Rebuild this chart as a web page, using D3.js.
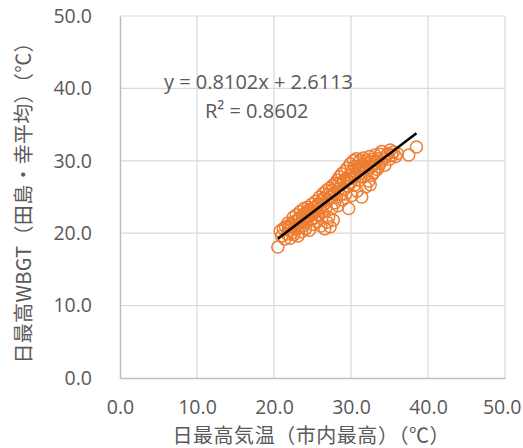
<!DOCTYPE html>
<html>
<head>
<meta charset="utf-8">
<script src="https://cdn.jsdelivr.net/npm/d3@7"></script>
<style>
  html, body { margin: 0; padding: 0; background: #fff; }
  svg text { font-family: "Noto Sans CJK JP", "Noto Sans", sans-serif; fill: #595959; }
</style>
</head>
<body>
<div id="chart"></div>
<script>
// 日最高気温（市内最高）
const tempMax = [
  20.5, 20.8, 21.0, 21.2, 21.4, 21.5, 21.7, 21.8, 22.0, 22.1, 22.3, 22.4, 22.5, 22.6, 22.7, 22.8, 22.9,
  23.0, 23.1, 23.2, 23.3, 23.4, 23.5, 23.6, 23.7, 23.8, 23.9, 24.0, 24.1, 24.2, 24.3, 24.4, 24.5, 24.6,
  24.7, 24.8, 24.9, 25.0, 25.1, 25.2, 25.3, 25.4, 25.5, 25.6, 25.7, 25.8, 25.9, 26.0, 26.1, 26.2, 26.3,
  26.4, 26.5, 26.6, 26.7, 26.8, 26.9, 27.0, 27.1, 27.2, 27.3, 27.4, 27.5, 27.6, 27.7, 27.8, 27.9, 28.0,
  28.1, 28.2, 28.3, 28.4, 28.5, 28.6, 28.7, 28.8, 28.9, 29.0, 29.1, 29.2, 29.3, 29.4, 29.5, 29.6, 29.7,
  29.8, 29.9, 30.0, 30.1, 30.2, 30.3, 30.4, 30.5, 30.6, 30.7, 30.8, 30.9, 31.0, 31.1, 31.2, 31.3, 31.4,
  31.5, 31.6, 31.7, 31.8, 31.9, 32.0, 32.1, 32.2, 32.3, 32.4, 32.5, 32.6, 32.7, 32.8, 32.9, 33.0, 33.1,
  33.2, 33.4, 33.5, 33.6, 33.8, 33.9, 34.0, 34.2, 34.4, 34.6, 34.8, 35.0, 35.1, 35.3, 35.5, 35.8, 36.0,
  37.5, 38.5,
  21.9, 22.2, 23.3, 23.9, 24.5, 25.2, 25.8, 26.4, 27.0, 27.6, 28.4, 29.1, 29.8, 30.5, 31.2, 32.0, 32.6
];
// 日最高WBGT（田島・幸平均）
const wbgtMax = [
  18.1, 20.3, 19.6, 20.6, 19.2, 20.9, 19.9, 21.4, 20.4, 19.3, 21.0, 20.1, 22.2, 19.8, 21.6, 20.6, 22.5,
  21.1, 19.6, 22.0, 20.8, 23.0, 21.5, 20.2, 22.4, 21.0, 23.4, 22.0, 20.6, 22.8, 21.6, 23.6, 22.3, 20.4,
  23.1, 21.9, 24.0, 22.6, 21.2, 23.5, 22.1, 24.4, 23.0, 21.6, 24.0, 22.5, 25.0, 23.6, 21.0, 24.5, 22.9,
  25.5, 24.0, 20.6, 23.4, 25.9, 21.5, 24.6, 22.2, 26.2, 20.9, 25.0, 23.4, 26.6, 21.8, 25.5, 24.2, 26.9,
  25.0, 27.3, 23.8, 26.1, 27.8, 25.3, 26.7, 28.2, 24.6, 27.2, 26.0, 28.6, 25.4, 27.6, 29.0, 26.5, 23.4,
  28.0, 29.6, 27.0, 25.2, 28.6, 30.0, 26.6, 29.2, 27.8, 30.3, 25.8, 28.8, 29.8, 27.3, 30.1, 28.3, 25.0,
  29.5, 30.4, 27.8, 29.0, 26.4, 30.0, 28.6, 29.6, 27.2, 30.6, 26.7, 29.1, 28.0, 30.2, 29.4, 28.4, 30.8,
  29.7, 28.8, 30.3, 29.2, 30.9, 29.8, 31.3, 30.2, 29.4, 30.7, 31.0, 30.2, 31.5, 30.8, 31.2, 30.6, 31.0,
  30.8, 31.9,
  20.8, 21.3, 21.9, 22.7, 23.2, 22.9, 23.9, 24.8, 25.3, 25.9, 26.8, 27.1, 27.5, 28.1, 28.9, 29.2, 29.9
];
const trendSlope = 0.8102;
const trendIntercept = 2.6113;
const rSquared = 0.8602;
const xTicks = [0, 10, 20, 30, 40, 50];
const yTicks = [0, 10, 20, 30, 40, 50];
const xTitle = '日最高気温（市内最高）（℃）';
const yTitle = '日最高WBGT（田島・幸平均）（℃）';

const W = 523, H = 448;
const plot = { left: 120, right: 505, top: 16, bottom: 378 };

const svg = d3.select('#chart').append('svg')
  .attr('width', W).attr('height', H);

const x = d3.scaleLinear().domain([0, 50]).range([plot.left, plot.right]);
const y = d3.scaleLinear().domain([0, 50]).range([plot.bottom, plot.top]);

// grid
svg.append('g').selectAll('line').data(xTicks.filter(d => d > 0)).enter().append('line')
  .attr('x1', d => x(d)).attr('x2', d => x(d))
  .attr('y1', plot.top).attr('y2', plot.bottom)
  .attr('stroke', '#d9d9d9').attr('stroke-width', 1.2);
svg.append('g').selectAll('line').data(yTicks.filter(d => d > 0)).enter().append('line')
  .attr('y1', d => y(d)).attr('y2', d => y(d))
  .attr('x1', plot.left).attr('x2', plot.right)
  .attr('stroke', '#d9d9d9').attr('stroke-width', 1.2);

// axes: labels from d3.axis, axis lines grey
const xAxis = svg.append('g')
  .attr('transform', `translate(0,${plot.bottom})`)
  .call(d3.axisBottom(x).tickValues(xTicks).tickFormat(d3.format('.1f')).tickSize(0).tickPadding(22));
const yAxis = svg.append('g')
  .attr('transform', `translate(${plot.left},0)`)
  .call(d3.axisLeft(y).tickValues(yTicks).tickFormat(d3.format('.1f')).tickSize(0).tickPadding(28));
[xAxis, yAxis].forEach(g => {
  g.select('.domain').attr('stroke', '#bfbfbf').attr('stroke-width', 1.6);
  g.selectAll('text').attr('font-size', 19.5).attr('fill', '#595959')
    .style('font-family', '"Open Sans", sans-serif');
});
// last x label pulled inside the page, as Excel does
xAxis.selectAll('.tick').filter(d => d === 50).select('text')
  .attr('text-anchor', 'end').attr('x', W - 2 - x(50));

// points
const pts = tempMax.map((v, i) => ({ x: v, y: wbgtMax[i] }));
svg.append('g').selectAll('circle').data(pts).enter().append('circle')
  .attr('cx', d => x(d.x)).attr('cy', d => y(d.y)).attr('r', 6)
  .attr('fill', 'none').attr('stroke', '#ED7D31').attr('stroke-width', 1.5);

// trendline
const xr = d3.extent(tempMax);
svg.append('line')
  .attr('x1', x(xr[0])).attr('y1', y(trendSlope * xr[0] + trendIntercept))
  .attr('x2', x(xr[1])).attr('y2', y(trendSlope * xr[1] + trendIntercept))
  .attr('stroke', '#000').attr('stroke-width', 2.5);

// equation
svg.append('text').attr('x', 164).attr('y', 89).attr('font-size', 20)
  .style('font-family', '"Open Sans", sans-serif')
  .text(`y = ${trendSlope}x + ${trendIntercept}`);
svg.append('text').attr('x', 205).attr('y', 118).attr('font-size', 20)
  .style('font-family', '"Open Sans", sans-serif')
  .text(`R² = ${rSquared}`);

// titles
svg.append('text').attr('x', 311).attr('y', 443).attr('text-anchor', 'middle')
  .attr('font-size', 20).attr('textLength', 277).attr('lengthAdjust', 'spacing').text(xTitle);
svg.append('text').attr('transform', 'translate(31,198) rotate(-90)')
  .attr('text-anchor', 'middle').attr('font-size', 20)
  .attr('textLength', 331).attr('lengthAdjust', 'spacing').text(yTitle);
</script>
</body>
</html>
